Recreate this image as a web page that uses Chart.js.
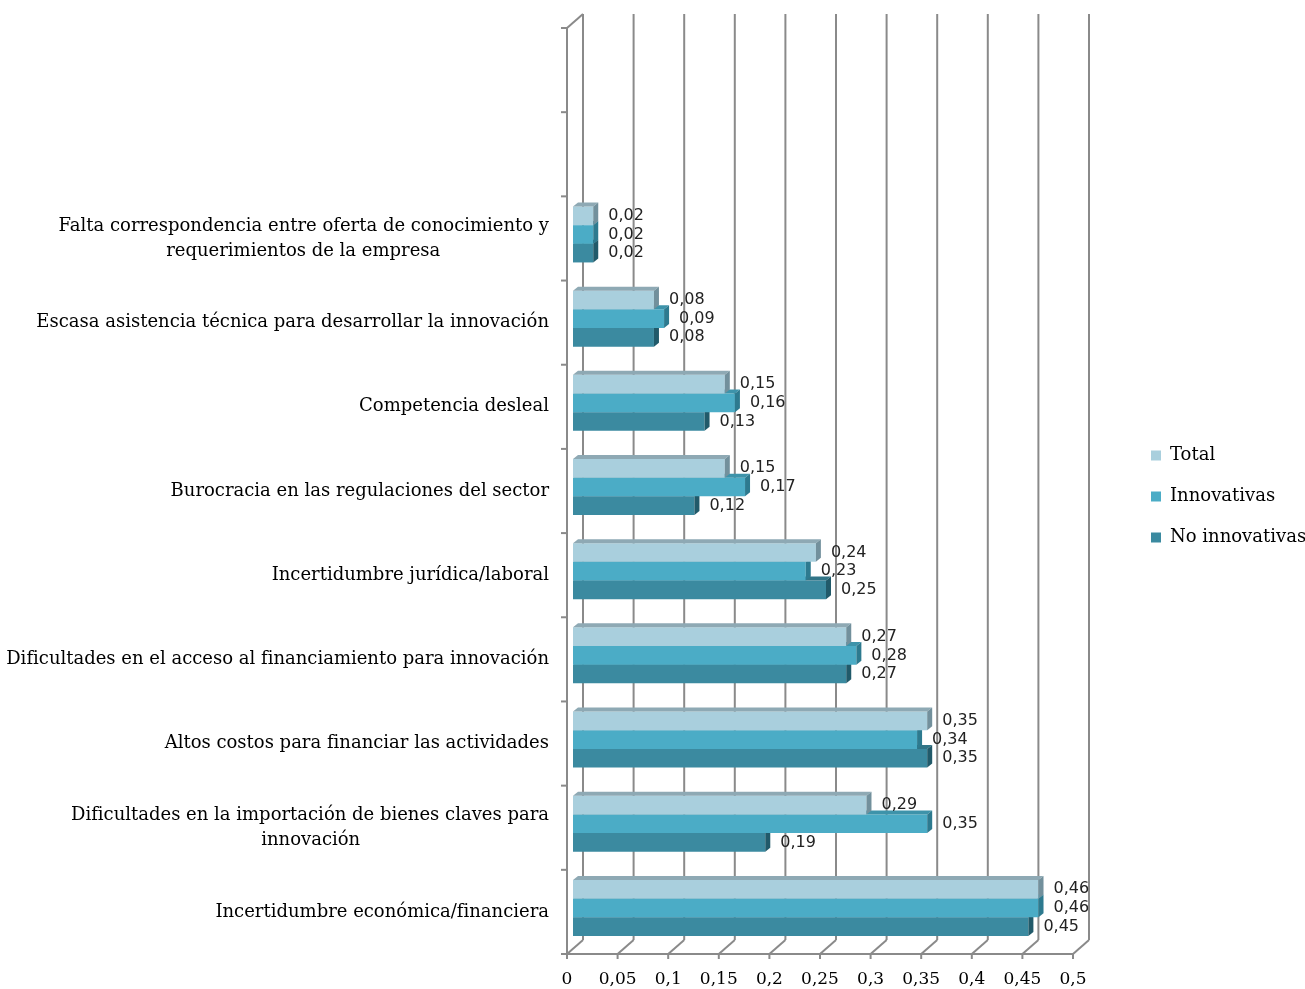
<!DOCTYPE html>
<html lang="es">
<head>
<meta charset="utf-8">
<title>Obstáculos para innovar</title>
<script src="https://cdn.jsdelivr.net/npm/chart.js@4.4.1/dist/chart.umd.min.js"></script>
<style>
  html, body { margin: 0; padding: 0; background: #fff; }
  canvas { display: block; }
</style>
</head>
<body>
<canvas id="chart" width="1305" height="989"></canvas>
<script>
// two empty slots at the top, then the obstacles from top to bottom
const categories = [
  "",
  "",
  ["Falta correspondencia entre oferta de conocimiento y", "requerimientos de la empresa"],
  "Escasa asistencia técnica para desarrollar la innovación",
  "Competencia desleal",
  "Burocracia en las regulaciones del sector",
  "Incertidumbre jurídica/laboral",
  "Dificultades en el acceso al financiamiento para innovación",
  "Altos costos para financiar las actividades",
  ["Dificultades en la importación de bienes claves para", "innovación"],
  "Incertidumbre económica/financiera"
];
const seriesNames = ["Total", "Innovativas", "No innovativas"];
const totalValues         = [null, null, 0.02, 0.08, 0.15, 0.15, 0.24, 0.27, 0.35, 0.29, 0.46];
const innovativasValues   = [null, null, 0.02, 0.09, 0.16, 0.17, 0.23, 0.28, 0.34, 0.35, 0.46];
const noInnovativasValues = [null, null, 0.02, 0.08, 0.13, 0.12, 0.25, 0.27, 0.35, 0.19, 0.45];
const xMin = 0, xMax = 0.5, xStep = 0.05;

const SERIF = "'DejaVu Serif', serif";
const SANS = "'DejaVu Sans', sans-serif";
const LABEL_SIZE = 18;
const GRID = "#8a8a8a";
const PLOT_LEFT = 573, PLOT_RIGHT = 1079, PLOT_TOP = 24, PLOT_BOTTOM = 950;
const LEGEND_X = 1151, LEGEND_DY = -10;
// oblique offsets of the front edge, back wall and bar depth from the bar plane
const FRONT = { dx: -6, dy: 4 };
const BACK = { dx: 10, dy: -10 };
const DEPTH = { dx: 5, dy: -4 };

const colors = [
  { front: "#a9cfdd", top: "#8ea9b4", side: "#72909c" },
  { front: "#4bacc6", top: "#3d93aa", side: "#2d7a8f" },
  { front: "#3b8aa0", top: "#317587", side: "#215a6a" }
];

const fmt = v => String(Math.round(v * 100) / 100).replace(".", ",");

// two-line labels: pad the shorter line so it sits centred under the longer one
const measureCtx = document.createElement("canvas").getContext("2d");
measureCtx.font = LABEL_SIZE + "px " + SERIF;
function centerLines(label) {
  if (!Array.isArray(label)) return label;
  const widths = label.map(s => measureCtx.measureText(s).width);
  const maxW = Math.max(...widths);
  const spaceW = measureCtx.measureText(" ").width;
  return label.map((s, i) => s + " ".repeat(Math.round((maxW - widths[i]) / 2 / spaceW)));
}

function line(ctx, x1, y1, x2, y2) {
  ctx.beginPath();
  ctx.moveTo(x1, y1);
  ctx.lineTo(x2, y2);
  ctx.stroke();
}

function poly(ctx, pts, fill) {
  ctx.beginPath();
  ctx.moveTo(pts[0][0], pts[0][1]);
  for (let i = 1; i < pts.length; i++) ctx.lineTo(pts[i][0], pts[i][1]);
  ctx.closePath();
  ctx.fillStyle = fill;
  ctx.fill();
}

// back wall, floor and left wall of the 3D frame
const wallsPlugin = {
  id: "walls",
  beforeDatasetsDraw(chart) {
    const { ctx, chartArea: a } = chart;
    const xs = chart.scales.x, ys = chart.scales.y;
    const fTop = a.top + FRONT.dy, fBot = a.bottom + FRONT.dy;
    const bTop = a.top + BACK.dy, bBot = a.bottom + BACK.dy;
    ctx.save();
    ctx.strokeStyle = GRID;
    ctx.lineWidth = 2;
    xs.ticks.forEach(t => {
      const px = xs.getPixelForValue(t.value);
      line(ctx, px + BACK.dx, bTop, px + BACK.dx, bBot);
      line(ctx, px + FRONT.dx, fBot, px + BACK.dx, bBot);
      line(ctx, px + FRONT.dx, fBot, px + FRONT.dx, fBot + 5);
    });
    const fl = a.left + FRONT.dx;
    line(ctx, fl, fBot, xs.getPixelForValue(xMax) + FRONT.dx, fBot);
    line(ctx, fl, fTop, fl, fBot);
    line(ctx, fl, fTop, a.left + BACK.dx, bTop);
    for (let i = 0; i <= categories.length; i++) {
      const py = ys.getPixelForValue(i - 0.5) + FRONT.dy;
      line(ctx, fl - 6, py, fl, py);
    }
    ctx.restore();
  }
};

// top and right faces of each bar, drawn right after its dataset
const barDepthPlugin = {
  id: "barDepth",
  afterDatasetDraw(chart, args) {
    const { ctx } = chart;
    const c = colors[args.index];
    ctx.save();
    args.meta.data.forEach((bar, i) => {
      if (chart.data.datasets[args.index].data[i] == null) return;
      const { x, y, base, height } = bar.getProps(["x", "y", "base", "height"], true);
      const t = y - height / 2, b = y + height / 2;
      poly(ctx, [[base, t], [x, t], [x + DEPTH.dx, t + DEPTH.dy], [base + DEPTH.dx, t + DEPTH.dy]], c.top);
      poly(ctx, [[x, t], [x + DEPTH.dx, t + DEPTH.dy], [x + DEPTH.dx, b + DEPTH.dy], [x, b]], c.side);
    });
    ctx.restore();
  }
};

// value labels to the right of every bar
const valueLabelsPlugin = {
  id: "valueLabels",
  afterDatasetsDraw(chart) {
    const { ctx } = chart;
    ctx.save();
    ctx.font = "16px " + SANS;
    ctx.fillStyle = "#222";
    ctx.textAlign = "left";
    ctx.textBaseline = "middle";
    chart.data.datasets.forEach((ds, di) => {
      chart.getDatasetMeta(di).data.forEach((bar, i) => {
        const v = ds.data[i];
        if (v == null) return;
        ctx.fillText(fmt(v), bar.x + 15, bar.y);
      });
    });
    ctx.restore();
  }
};

// legend sits further right than the plot edge
const legendPlacePlugin = {
  id: "legendPlace",
  afterLayout(chart) {
    const lg = chart.legend;
    const dx = LEGEND_X - (lg.left + lg.options.labels.padding);
    lg.left += dx;
    lg.right += dx;
    lg.top += LEGEND_DY;
    lg.bottom += LEGEND_DY;
  }
};

const chart = new Chart(document.getElementById("chart"), {
  type: "bar",
  data: {
    labels: categories.map(centerLines),
    datasets: [
      { label: seriesNames[0], data: totalValues, backgroundColor: colors[0].front },
      { label: seriesNames[1], data: innovativasValues, backgroundColor: colors[1].front },
      { label: seriesNames[2], data: noInnovativasValues, backgroundColor: colors[2].front }
    ]
  },
  plugins: [wallsPlugin, barDepthPlugin, valueLabelsPlugin, legendPlacePlugin],
  options: {
    indexAxis: "y",
    responsive: false,
    animation: false,
    devicePixelRatio: 1,
    borderWidth: 0,
    categoryPercentage: 0.665,
    barPercentage: 1,
    layout: { padding: { top: PLOT_TOP, left: 0, right: 50, bottom: 0 } },
    scales: {
      x: {
        min: xMin,
        max: xMax,
        grid: { display: false, drawTicks: false, tickLength: 0 },
        border: { display: false },
        ticks: {
          stepSize: xStep,
          maxRotation: 0,
          padding: 19,
          labelOffset: FRONT.dx,
          color: "#000",
          font: { family: SERIF, size: 17 },
          callback: v => fmt(v)
        },
        afterFit(scale) { scale.height = 989 - PLOT_BOTTOM; }
      },
      y: {
        grid: { display: false, drawTicks: false, tickLength: 0 },
        border: { display: false },
        ticks: {
          autoSkip: false,
          padding: PLOT_LEFT - 549,
          labelOffset: FRONT.dy,
          color: "#000",
          font: { family: SERIF, size: LABEL_SIZE, lineHeight: 1.4 }
        },
        afterFit(scale) {
          scale.width = PLOT_LEFT;
          scale.paddingTop = 0;
          scale.paddingBottom = 0;
        }
      }
    },
    plugins: {
      tooltip: { enabled: false },
      legend: {
        position: "right",
        labels: {
          color: "#000",
          boxWidth: 10,
          boxHeight: 10,
          padding: 23,
          font: { family: SERIF, size: 18 }
        }
      }
    }
  }
});

// pin the plot's edges by adjusting the layout padding
const a = chart.chartArea;
const diffRight = a.right - PLOT_RIGHT;
const diffTop = a.top - PLOT_TOP;
if (Math.abs(diffRight) > 0.5 || Math.abs(diffTop) > 0.5) {
  chart.options.layout.padding.right += diffRight;
  chart.options.layout.padding.top -= diffTop;
  chart.update("none");
}
</script>
</body>
</html>
